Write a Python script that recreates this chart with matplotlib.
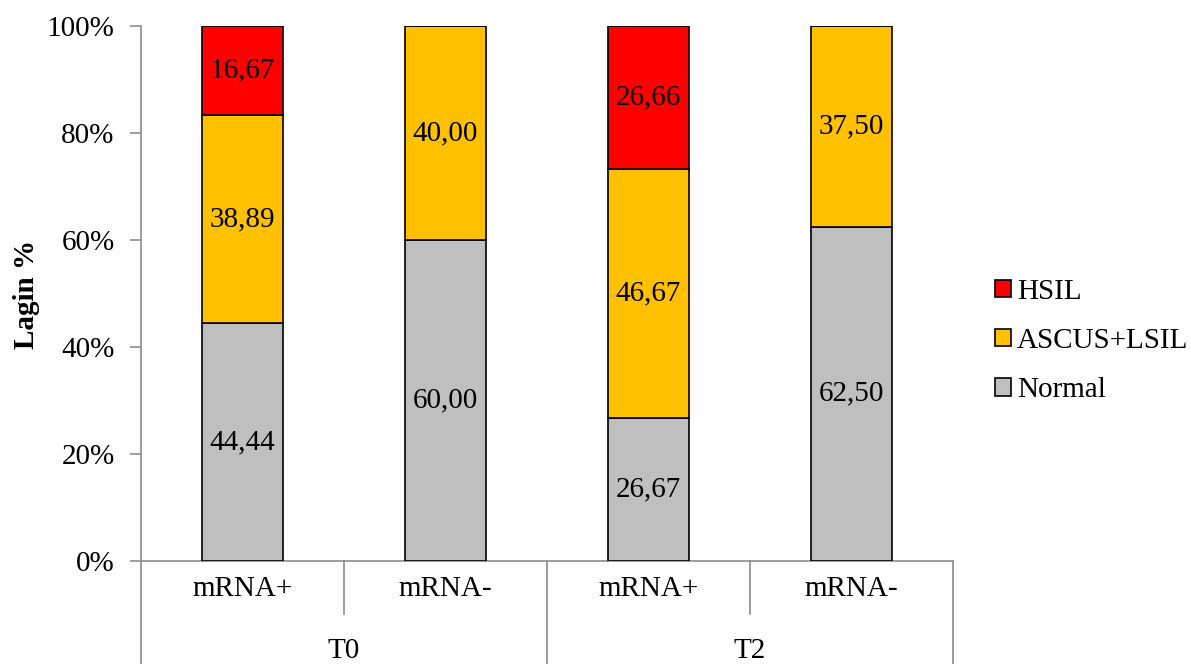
import matplotlib
matplotlib.use("Agg")
import matplotlib.pyplot as plt
from matplotlib.patches import Patch
import matplotlib.transforms as mtransforms

plt.rcParams['font.family'] = ['Liberation Serif', 'DejaVu Serif']

# Data
groups = ["T0", "T2"]
subcats = ["mRNA+", "mRNA-", "mRNA+", "mRNA-"]
normal = [44.44, 60.00, 26.67, 62.50]
ascus_lsil = [38.89, 40.00, 46.67, 37.50]
hsil = [16.67, 0.0, 26.66, 0.0]
series_names = ["Normal", "ASCUS+LSIL", "HSIL"]
series_colors = ["#BFBFBF", "#FFC000", "#FF0000"]
yticks = [0, 20, 40, 60, 80, 100]
ytick_labels = ["0%", "20%", "40%", "60%", "80%", "100%"]

W, H = 1191, 664
fig = plt.figure(figsize=(W / 100, H / 100), dpi=100)
ax = fig.add_axes([141 / W, (H - 561) / H, (953 - 141) / W, (561 - 26) / H])

fs = 21
x = list(range(len(subcats)))
bottom = [0.0] * len(subcats)
for name, vals, col in zip(series_names, [normal, ascus_lsil, hsil], series_colors):
    ax.bar(x, vals, width=0.4, bottom=bottom, color=col,
           edgecolor="black", linewidth=1.2, zorder=3)
    for xi, v, b in zip(x, vals, bottom):
        if v > 0:
            ax.text(xi, b + v / 2, f"{v:.2f}".replace(".", ","),
                    ha="center", va="center", fontsize=fs, zorder=4)
    bottom = [b + v for b, v in zip(bottom, vals)]

ax.set_xlim(-0.5, len(subcats) - 0.5)
ax.set_ylim(0, 100)
ax.set_yticks(yticks)
ax.set_yticklabels(ytick_labels, fontsize=fs)
ax.set_xticks([])
for s in ["top", "right"]:
    ax.spines[s].set_visible(False)
axis_gray = "#8C8C8C"
for s in ["left", "bottom"]:
    ax.spines[s].set_color(axis_gray)
    ax.spines[s].set_linewidth(1.2)
ax.tick_params(axis="y", direction="out", length=8, width=1.2, color=axis_gray, pad=11)

ax.set_ylabel("Lagin %", fontsize=fs, fontweight="bold")
ax.yaxis.set_label_coords((40 - 141) / 812, (561 - 294) / 535)

# Two-level category axis below the plot
trans = mtransforms.blended_transform_factory(ax.transData, ax.transAxes)
px = 1 / 535.0
for xv in [0.5, 2.5]:
    ax.plot([xv, xv], [0, -53 * px], transform=trans, color=axis_gray,
            lw=1.2, clip_on=False)
for xv in [-0.5, 1.5, 3.5]:
    ax.plot([xv, xv], [0, -120 * px], transform=trans, color=axis_gray,
            lw=1.2, clip_on=False)
for xi, lab in zip(x, subcats):
    ax.text(xi, -28 * px, lab, transform=trans, ha="center", va="center",
            fontsize=fs, clip_on=False)
for gi, g in enumerate(groups):
    ax.text(gi * 2 + 0.5, -90 * px, g, transform=trans, ha="center",
            va="center", fontsize=fs, clip_on=False)

# Legend
leg_handles = [Patch(facecolor=c, edgecolor="black", linewidth=1.2)
               for c in series_colors[::-1]]
fig.legend(leg_handles, series_names[::-1], loc="center left",
           bbox_to_anchor=(995 / W, (H - 341) / H), frameon=False,
           fontsize=fs, handlelength=0.55, handleheight=0.55,
           handletextpad=0.2, labelspacing=0.8, borderpad=0, borderaxespad=0)

fig.savefig("out.png", dpi=100)
